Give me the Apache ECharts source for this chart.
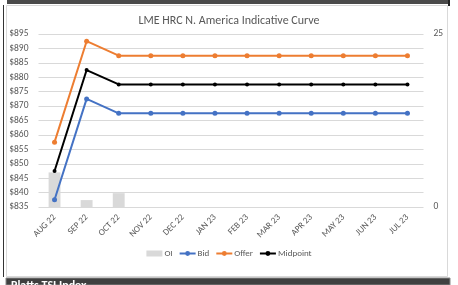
<!DOCTYPE html>
<html>
<head>
    <meta charset="UTF-8">
    <title>LME HRC N. America Indicative Curve</title>
    <script type="text/javascript" src="https://cdn.jsdelivr.net/npm/echarts@6/dist/echarts.min.js"></script>
</head>
<body style="margin: 0;overflow: hidden;background: #fff;width: 458px;height: 285px;">
<div id="chart" style="width: 458px;height: 285px;"></div>
<script type="text/javascript">
    var months = ['AUG 22', 'SEP 22', 'OCT 22', 'NOV 22', 'DEC 22', 'JAN 23', 'FEB 23', 'MAR 23', 'APR 23', 'MAY 23', 'JUN 23', 'JUL 23'];
    var oi = [5, 1, 2, 0, 0, 0, 0, 0, 0, 0, 0, 0];
    var bid = [837.5, 872.5, 867.5, 867.5, 867.5, 867.5, 867.5, 867.5, 867.5, 867.5, 867.5, 867.5];
    var offer = [857.5, 892.5, 887.5, 887.5, 887.5, 887.5, 887.5, 887.5, 887.5, 887.5, 887.5, 887.5];
    var midpoint = [847.5, 882.5, 877.5, 877.5, 877.5, 877.5, 877.5, 877.5, 877.5, 877.5, 877.5, 877.5];

    var font = 'Carlito, "Liberation Sans", sans-serif';
    var grey = '#595959';

    var chart = echarts.init(document.getElementById('chart'));
    var option = {
        backgroundColor: '#fff',
        animation: false,
        textStyle: {fontFamily: font},
        title: {
            text: 'LME HRC N. America Indicative Curve',
            left: 'center',
            top: 10,
            textStyle: {fontSize: 12, fontWeight: 'normal', color: grey, fontFamily: font}
        },
        legend: {
            bottom: 22,
            left: 'center',
            itemWidth: 16,
            itemHeight: 6,
            itemGap: 6,
            textStyle: {fontSize: 9, color: grey, fontFamily: font, padding: [0, 0, 0, -3]},
            data: [
                {name: 'OI', icon: 'rect'},
                {name: 'Bid'},
                {name: 'Offer'},
                {name: 'Midpoint'}
            ]
        },
        grid: {left: 38.5, right: 34.5, top: 34, bottom: 78},
        xAxis: {
            type: 'category',
            data: months,
            axisLine: {show: false},
            axisTick: {show: false},
            axisLabel: {rotate: 45, fontSize: 9, color: grey, margin: 9, fontFamily: font}
        },
        yAxis: [{
            type: 'value',
            min: 835,
            max: 895,
            interval: 5,
            axisLine: {show: false},
            axisTick: {show: false},
            splitLine: {lineStyle: {color: '#d9d9d9', width: 1}},
            axisLabel: {fontSize: 9.5, color: grey, margin: 10, fontFamily: font, formatter: function (v) {
                return '$' + v;
            }}
        }, {
            type: 'value',
            min: 0,
            max: 25,
            interval: 25,
            axisLine: {show: false},
            axisTick: {show: false},
            splitLine: {show: false},
            axisLabel: {fontSize: 9.5, color: grey, margin: 10, fontFamily: font}
        }],
        series: [{
            name: 'OI',
            type: 'bar',
            yAxisIndex: 1,
            data: oi,
            barWidth: '37%',
            itemStyle: {color: '#d9d9d9'}
        }, {
            name: 'Bid',
            type: 'line',
            data: bid,
            symbol: 'circle',
            symbolSize: 5,
            lineStyle: {color: '#4472c4', width: 2},
            itemStyle: {color: '#4472c4'}
        }, {
            name: 'Offer',
            type: 'line',
            data: offer,
            symbol: 'circle',
            symbolSize: 5,
            lineStyle: {color: '#ed7d31', width: 2},
            itemStyle: {color: '#ed7d31'}
        }, {
            name: 'Midpoint',
            type: 'line',
            data: midpoint,
            symbol: 'circle',
            symbolSize: 4,
            lineStyle: {color: '#000', width: 2},
            itemStyle: {color: '#000'}
        }],
        graphic: [{
            type: 'rect',
            shape: {x: 7, y: 0, width: 443, height: 4},
            style: {fill: '#4a4a4a'}
        }, {
            type: 'text',
            left: 12,
            top: -9,
            style: {text: 'Platts TSI HRC US EXW Indiana Index', fill: '#fff', font: 'bold 12px ' + font}
        }, {
            type: 'rect',
            shape: {x: 448, y: 0, width: 2, height: 6},
            style: {fill: '#222'}
        }, {
            type: 'rect',
            shape: {x: 3, y: 5, width: 1, height: 272},
            style: {fill: '#333'}
        }, {
            type: 'rect',
            shape: {x: 6.5, y: 5.5, width: 441, height: 271},
            style: {fill: 'none', stroke: '#d9d9d9', lineWidth: 1}
        }, {
            type: 'rect',
            shape: {x: 6, y: 278, width: 444, height: 7},
            style: {fill: '#3f3f3f', stroke: '#888', lineWidth: 1}
        }, {
            type: 'text',
            left: 11,
            top: 280,
            style: {text: 'Platts TSI Index', fill: '#fff', font: 'bold 12px ' + font}
        }]
    };
    chart.setOption(option);
</script>
</body>
</html>
